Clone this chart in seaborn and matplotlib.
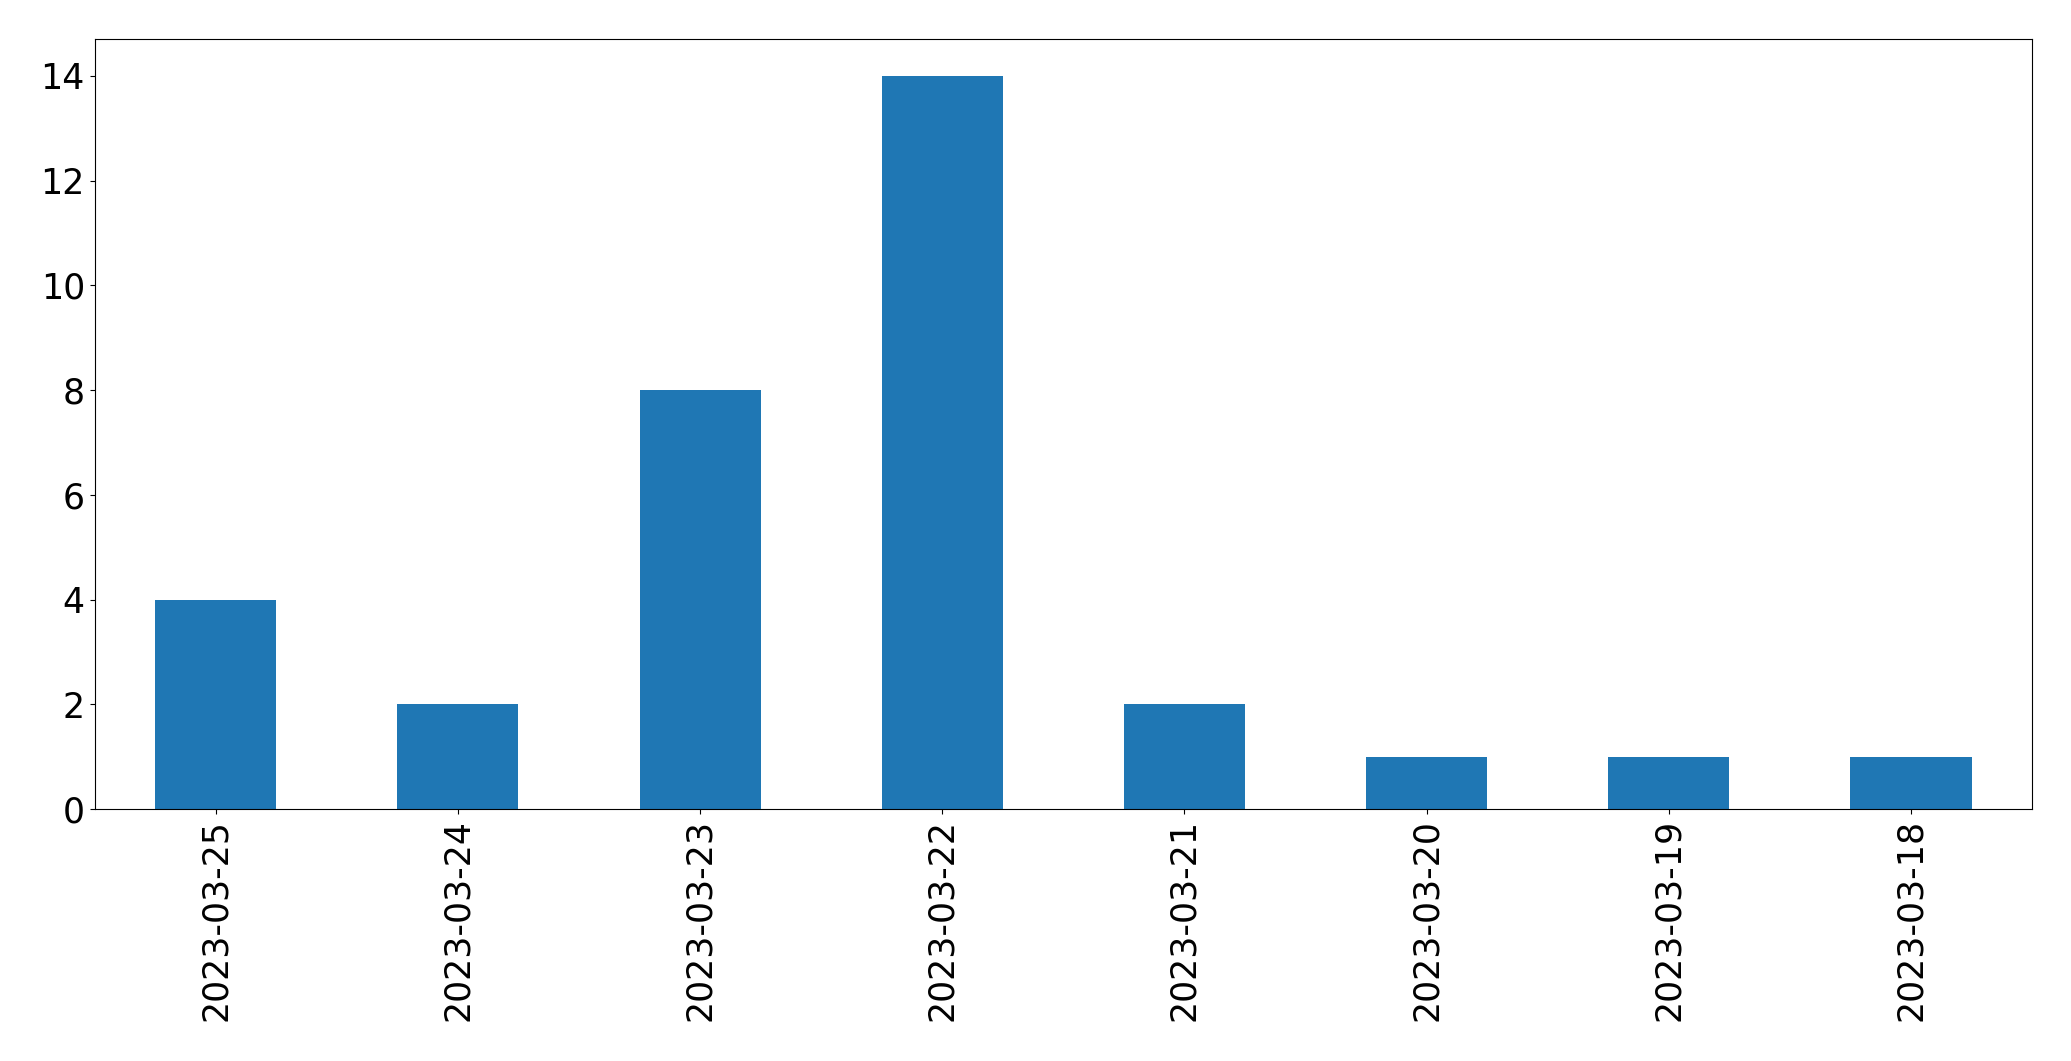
import matplotlib
matplotlib.use("Agg")
import matplotlib.pyplot as plt
import seaborn as sns
import pandas as pd

dates = ['2023-03-25', '2023-03-24', '2023-03-23', '2023-03-22',
         '2023-03-21', '2023-03-20', '2023-03-19', '2023-03-18']
counts = [4, 2, 8, 14, 2, 1, 1, 1]

df = pd.DataFrame({'date': dates, 'count': counts})

fig = plt.figure(figsize=(20.71, 10.61), dpi=100)
ax = fig.add_axes([0.0457, 0.2375, 0.9355, 0.7255])
sns.barplot(data=df, x='date', y='count', order=dates, color='#1f77b4',
            saturation=1, width=0.5, ax=ax)

ax.set_xlim(-0.5, len(dates) - 0.5)
ax.set_ylim(0, 14.7)
ax.set_xlabel('')
ax.set_ylabel('')
ax.tick_params(axis='both', labelsize=25)
ax.tick_params(axis='x', labelrotation=90)

fig.savefig('out.png', dpi=100)
